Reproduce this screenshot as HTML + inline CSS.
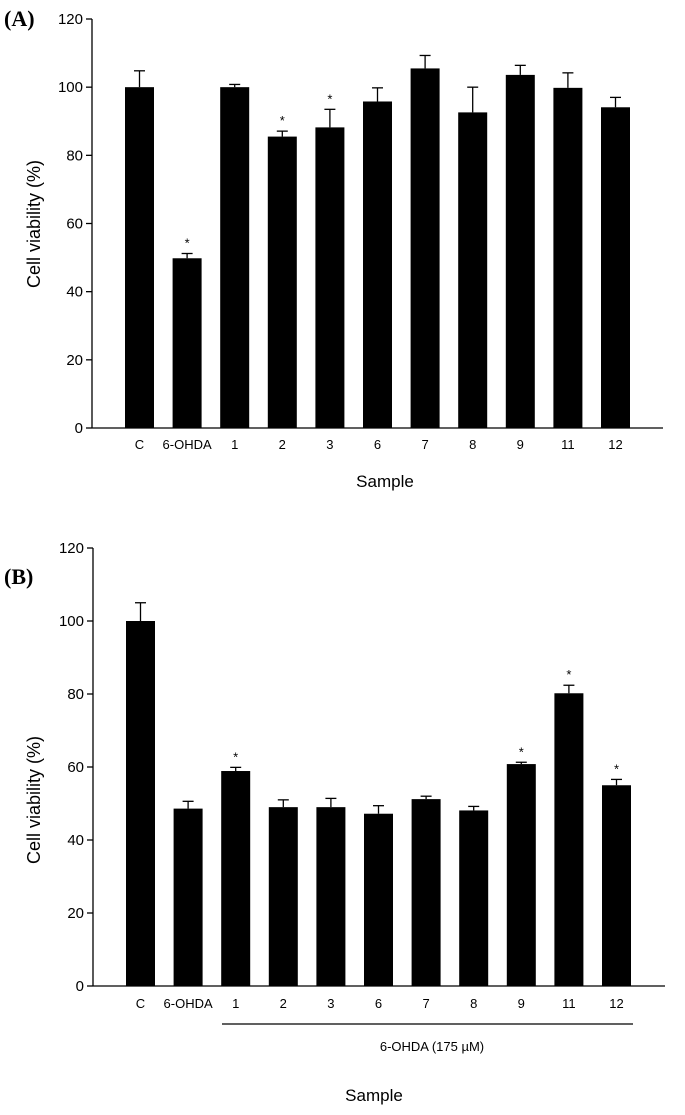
<!DOCTYPE html>
<html><head><meta charset="utf-8"><style>
body{margin:0;background:#fff}
svg{display:block;font-family:"Liberation Sans",Arial,sans-serif}
</style></head><body>
<svg id="s" width="685" height="1115">
<text x="4" y="26" font-family="Liberation Serif,serif" font-weight="bold" font-size="22">(A)</text>
<text x="4" y="584" font-family="Liberation Serif,serif" font-weight="bold" font-size="22">(B)</text>
</svg>
<script>
const categories=["C","6-OHDA","1","2","3","6","7","8","9","11","12"];
const valuesA=[100,49.8,100,85.5,88.2,95.8,105.5,92.6,103.6,99.8,94.1];
const errorsA=[4.8,1.4,0.8,1.6,5.3,4,3.8,7.4,2.8,4.4,2.9];
const starsA=[0,1,0,1,1,0,0,0,0,0,0];
const valuesB=[100,48.6,58.9,49,49,47.2,51.2,48.1,60.8,80.2,55];
const errorsB=[5,2,1,2,2.4,2.2,0.8,1.1,0.5,2.2,1.6];
const starsB=[0,0,1,0,0,0,0,0,1,1,1];
const yTicks=[0,20,40,60,80,100,120];
const NS="http://www.w3.org/2000/svg";
const svg=document.getElementById('s');
function mk(t,a,p){const e=document.createElementNS(NS,t);for(const k in a)e.setAttribute(k,a[k]);(p||svg).appendChild(e);return e;}
function panel(id,ax,y0,y120,axEnd,vals,errs,stars,labY,ylabCy){
  const g=mk('g',{});
  
  
  const y=v=>y0-(y0-y120)*v/120;
  const x0=ax+33, step=47.6, w=29;
  const xa=mk('line',{x1:ax,y1:y0,x2:axEnd,y2:y0,stroke:'#000','stroke-width':1.3},g);
  
  
  const ya=mk('line',{x1:ax,y1:y0,x2:ax,y2:y120,stroke:'#000','stroke-width':1.3},g);
  
  
  yTicks.forEach(t=>{
    mk('line',{x1:ax-6,y1:y(t),x2:ax,y2:y(t),stroke:'#000','stroke-width':1.3},g);
    const tx=mk('text',{x:ax-9,y:y(t)+5,'text-anchor':'end','font-size':15},g);
    tx.textContent=t;
    
    
  });
  categories.forEach((c,i)=>{
    const bx=x0+i*step, cx=bx+w/2;
    const r=mk('rect',{x:bx,y:y(vals[i]),width:w,height:y0-y(vals[i]),fill:'#000'},g);
    
    
    const et=y(vals[i]+errs[i]);
    mk('line',{x1:cx,y1:y(vals[i]),x2:cx,y2:et,stroke:'#000','stroke-width':1.3},g);
    const cap=mk('line',{x1:cx-5.5,y1:et,x2:cx+5.5,y2:et,stroke:'#000','stroke-width':1.3},g);
    
    
    if(stars[i]){
      const s=mk('text',{x:cx,y:et-6,'text-anchor':'middle','font-size':13},g);
      s.textContent='*';
      
      
    }
    const l=mk('text',{x:cx,y:labY,'text-anchor':'middle','font-size':13},g);
    l.textContent=c;
    
    
  });
  const yl=mk('text',{x:0,y:0,'text-anchor':'middle','font-size':18,transform:`translate(40,${ylabCy}) rotate(-90)`},g);
  yl.textContent='Cell viability (%)';
  
  
}
panel('panel-a',92,428,19,663,valuesA,errorsA,starsA,449,224);
panel('panel-b',93,986,548,665,valuesB,errorsB,starsB,1008,800);
const sa=mk('text',{x:385,y:487,'text-anchor':'middle','font-size':17});
sa.textContent='Sample';


const br=mk('line',{x1:222,y1:1024,x2:633,y2:1024,stroke:'#000','stroke-width':1.2});


const bt=mk('text',{x:432,y:1051,'text-anchor':'middle','font-size':13});
bt.textContent='6-OHDA (175 µM)';


const sb=mk('text',{x:374,y:1101,'text-anchor':'middle','font-size':17});
sb.textContent='Sample';


</script>
</body></html>
